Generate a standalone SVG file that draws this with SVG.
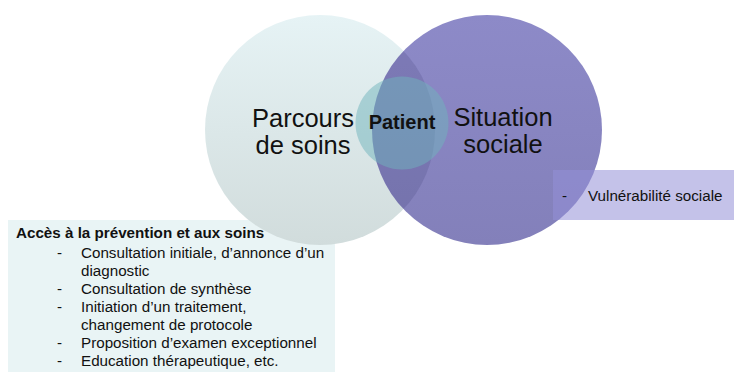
<svg xmlns="http://www.w3.org/2000/svg" width="734" height="372" viewBox="0 0 734 372">
<defs>
<linearGradient id="gLeft" x1="0" y1="0" x2="0" y2="1">
<stop offset="0" stop-color="#e6f3f5"/>
<stop offset="1" stop-color="#d1dcdc"/>
</linearGradient>
<linearGradient id="gRight" x1="0" y1="0" x2="0" y2="1">
<stop offset="0" stop-color="#8d8ac8"/>
<stop offset="1" stop-color="#8380ba"/>
</linearGradient>
<clipPath id="clipLeft"><circle cx="320" cy="130" r="115"/></clipPath>
<style>
text{font-family:"Liberation Sans",Arial,sans-serif;fill:#111;}
.big{font-size:25.5px;text-anchor:middle;}
.mid{font-size:20px;font-weight:bold;text-anchor:middle;}
.sm{font-size:15.2px;}
.b{font-size:15.2px;font-weight:bold;}
</style>
</defs>
<rect width="734" height="372" fill="#ffffff"/>
<g id="box-acces">
<rect x="8" y="220" width="327" height="152" fill="#e9f4f5"/>
</g>
<g id="circle-parcours">
<circle cx="320" cy="130" r="115" fill="url(#gLeft)"/>
</g>
<g id="circle-situation">
<circle cx="487" cy="130" r="115" fill="url(#gRight)"/>
<circle cx="487" cy="130" r="115" fill="#1a1850" fill-opacity="0.13" clip-path="url(#clipLeft)"/>
</g>
<g id="circle-patient">
<circle cx="402" cy="123" r="46.5" fill="#6fb3bb" fill-opacity="0.5"/>
</g>
<g id="box-vulnerabilite">
<rect x="553" y="170" width="181" height="50" fill="#9490d7" fill-opacity="0.55"/>
<text class="sm" x="562" y="201">-</text>
<text class="sm" x="588" y="201">Vulnérabilité sociale</text>
</g>
<g id="label-parcours">
<text class="big" x="303" y="127">Parcours</text>
<text class="big" x="303" y="154">de soins</text>
</g>
<g id="label-situation">
<text class="big" x="503" y="126">Situation</text>
<text class="big" x="503" y="153">sociale</text>
</g>
<g id="label-patient">
<text class="mid" x="402" y="129">Patient</text>
</g>
<g id="text-acces">
<text class="b" x="16" y="238">Accès à la prévention et aux soins</text>
<text class="sm" x="57" y="257.5">-</text>
<text class="sm" x="81" y="257.5">Consultation initiale, d’annonce d’un</text>
<text class="sm" x="81" y="275.5">diagnostic</text>
<text class="sm" x="57" y="293.5">-</text>
<text class="sm" x="81" y="293.5">Consultation de synthèse</text>
<text class="sm" x="57" y="311.5">-</text>
<text class="sm" x="81" y="311.5">Initiation d’un traitement,</text>
<text class="sm" x="81" y="329.5">changement de protocole</text>
<text class="sm" x="57" y="347.5">-</text>
<text class="sm" x="81" y="347.5">Proposition d’examen exceptionnel</text>
<text class="sm" x="57" y="365.5">-</text>
<text class="sm" x="81" y="365.5">Education thérapeutique, etc.</text>
</g>
</svg>
